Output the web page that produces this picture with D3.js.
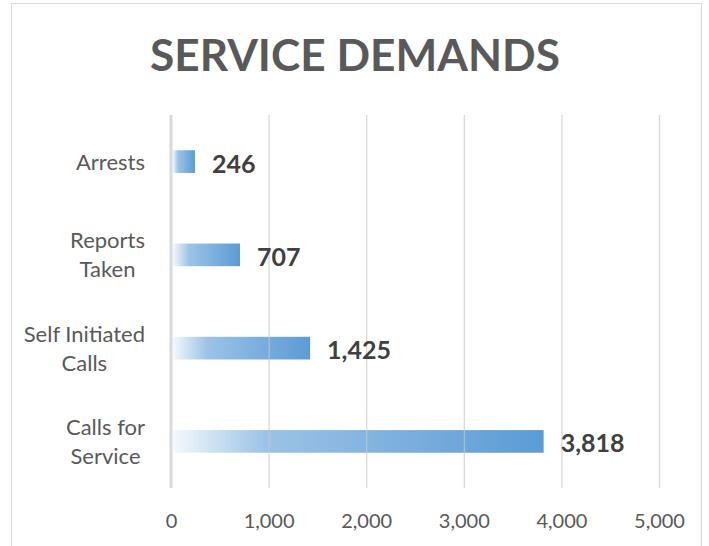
<!DOCTYPE html>
<html><head><meta charset="utf-8">
<script src="https://cdn.jsdelivr.net/npm/d3@7"></script>
<style>html,body{margin:0;padding:0;background:#fff;}svg{display:block;}</style>
</head><body>
<svg id="c" width="709" height="546"></svg>
<script>
const categories = [["Arrests"], ["Reports", "Taken"], ["Self Initiated", "Calls"], ["Calls for", "Service"]];
const values = [246, 707, 1425, 3818];
const tickValues = [0, 1000, 2000, 3000, 4000, 5000];
const title = "SERVICE DEMANDS";

const svg = d3.select("#c");
const font = "Lato, 'Open Sans', sans-serif";
const x = d3.scaleLinear().domain([0, 5000]).range([171, 659]);
const y = d3.scaleBand().domain(d3.range(categories.length)).range([115, 488]).paddingInner(0.757).paddingOuter(0.378);

svg.append("rect").attr("x", 11.5).attr("y", 3.5).attr("width", 690).attr("height", 600)
  .attr("fill", "#fff").attr("stroke", "#d9d9d9").attr("stroke-width", 1);

const defs = svg.append("defs");
const grad = defs.append("linearGradient").attr("id", "bg").attr("x1", 0).attr("x2", 1).attr("y1", 0).attr("y2", 0);
grad.append("stop").attr("offset", 0).attr("stop-color", "#f5f9fd");
grad.append("stop").attr("offset", 0.25).attr("stop-color", "#9cc3e6");
grad.append("stop").attr("offset", 1).attr("stop-color", "#5b9bd5");

svg.append("text").attr("x", 355).attr("y", 71).attr("text-anchor", "middle")
  .attr("font-family", font).attr("font-weight", "bold").attr("font-size", 44)
  .attr("fill", "#595959").attr("textLength", 410).attr("lengthAdjust", "spacingAndGlyphs").text(title);

// bars
svg.append("g").selectAll("rect").data(values).join("rect")
  .attr("x", x(0) + 1.5).attr("y", (d, i) => y(i))
  .attr("width", d => x(d) - x(0) - 1.5).attr("height", y.bandwidth())
  .attr("fill", "url(#bg)");

// gridlines (on top, faint)
svg.append("g").selectAll("line").data(tickValues.slice(1)).join("line")
  .attr("x1", d => x(d) + 0.5).attr("x2", d => x(d) + 0.5)
  .attr("y1", 115).attr("y2", 488)
  .attr("stroke", "#c8c8c8").attr("stroke-opacity", 0.75).attr("stroke-width", 1.2);

// axis line
svg.append("line").attr("x1", x(0)).attr("x2", x(0)).attr("y1", 115).attr("y2", 488)
  .attr("stroke", "#d9d9d9").attr("stroke-width", 3);

// tick labels
const xAxis = d3.axisBottom(x).tickValues(tickValues).tickFormat(d3.format(",")).tickSize(0).tickPadding(0);
const ax = svg.append("g").attr("transform", "translate(0,514)").call(xAxis);
ax.select(".domain").remove();
ax.selectAll("text").attr("font-family", font).attr("font-size", 20).attr("fill", "#595959").attr("dy", "0.71em");

// category labels
const cat = svg.append("g").selectAll("text").data(categories).join("text")
  .attr("font-family", font).attr("font-size", 22).attr("fill", "#595959")
  .attr("text-anchor", "middle");
cat.each(function(lines, i) {
  const t = d3.select(this);
  const cy = y(i) + y.bandwidth() / 2;
  const lh = 29;
  lines.forEach((ln, j) => {
    t.append("tspan").attr("x", 0).attr("y", cy + (j - (lines.length - 1) / 2) * lh + 8).text(ln);
  });
});
cat.each(function() {
  const t = d3.select(this);
  const w = this.getBBox().width;
  t.selectAll("tspan").attr("x", 145 - w / 2);
});

// data labels
svg.append("g").selectAll("text").data(values).join("text")
  .attr("x", d => x(d) + 17).attr("y", (d, i) => y(i) + y.bandwidth() / 2 + 11)
  .attr("font-family", font).attr("font-weight", "bold").attr("font-size", 25)
  .attr("fill", "#404040").text(d => d3.format(",")(d));
</script>
</body></html>
